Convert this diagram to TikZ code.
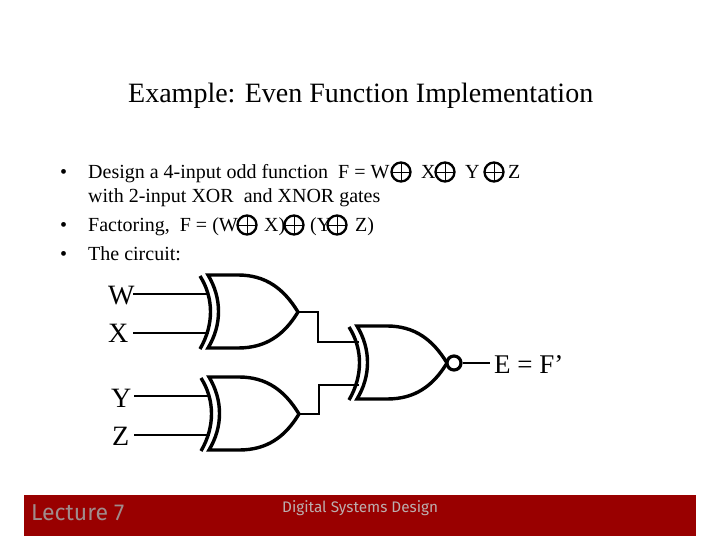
\documentclass[tikz,border=0pt]{standalone}
\usepackage{fontspec}
\setmainfont{Liberation Serif}
\newfontfamily\footfont{Fira Sans}
\definecolor{barred}{HTML}{990000}
\definecolor{footgrey}{HTML}{A08C8C}
\tikzset{
  body/.style={font=\fontsize{20}{22}\selectfont, anchor=base west, inner sep=0pt},
  bigtext/.style={font=\fontsize{28}{30}\selectfont, anchor=base west, inner sep=0pt},
  oplussym/.style={circle, draw, line width=2.3pt, minimum size=19pt, inner sep=0pt,
    path picture={\draw[line width=0.8pt] (path picture bounding box.north) -- (path picture bounding box.south)
      (path picture bounding box.west) -- (path picture bounding box.east);}},
  wire/.style={line width=2.8pt},
  thinwire/.style={line width=1.9pt},
  gateline/.style={line width=3.4pt},
  pics/xorgate/.style={code={
    \draw[gateline, line join=miter] (0,0) -- (30,0) .. controls (58,0) and (76,14) .. (90,37)
      .. controls (76,60) and (58,73) .. (30,73) -- (0,73) .. controls (14,50) and (14,23) .. (0,0) -- cycle;
    \draw[gateline] (-8,1) .. controls (6,23) and (6,50) .. (-8,74);
    \coordinate (-in1) at (1,19);
    \coordinate (-in2) at (1,58);
    \coordinate (-out) at (90,37);
  }}
}
\begin{document}
\begin{tikzpicture}[x=1pt,y=-1pt]
\useasboundingbox (0,0) rectangle (720,540);
\fill[white] (0,0) rectangle (720,540);
\node[bigtext] (title) at (128,103) {Example: Even Function Implementation};

\node[body] (b1) at (60,179) {•};
\node[body] (t1a) at (88,179) {Design a 4-input odd function\ \ F = W};
\node[body] (t1b) at (421,179) {X};
\node[body] (t1c) at (465,179) {Y};
\node[body] (t1d) at (508,179) {Z};
\node[oplussym] (o1) at (401,172) {};
\node[oplussym] (o2) at (445,172) {};
\node[oplussym] (o3) at (494,172) {};
\node[body] (t2) at (88,203) {with 2-input XOR\ \ and XNOR gates};
\node[body] (b2) at (60,232) {•};
\node[body] (t3a) at (88,232) {Factoring,\ \ F = (W};
\node[body] (t3b) at (264,232) {X)};
\node[body] (t3c) at (310,232) {(Y};
\node[body] (t3d) at (355,232) {Z)};
\node[oplussym] (o4) at (247,225) {};
\node[oplussym] (o5) at (294,225) {};
\node[oplussym] (o6) at (337,225) {};
\node[body] (b3) at (60,260) {•};
\node[body] (t4) at (88,260) {The circuit:};

\node[bigtext] (w) at (108,304) {W};
\node[bigtext] (x) at (108,342) {X};
\node[bigtext] (y) at (111,407) {Y};
\node[bigtext] (z) at (112,445) {Z};
\node[font=\fontsize{27}{29}\selectfont, anchor=base west, inner sep=0pt] (e) at (494,373) {E = F’};

\pic (g1) at (208,275) {xorgate};
\pic (g2) at (209,377) {xorgate};
\pic (g3) at (357,326) {xorgate};
\node[circle, draw, line width=3.2pt, minimum size=14pt, inner sep=0pt, fill=white] (bub) at (454,363) {};

\coordinate (wp) at (133,294);
\coordinate (xp) at (133,333);
\coordinate (yp) at (134,396);
\coordinate (zp) at (134,435);
\coordinate (ep) at (490,363);
\coordinate (j1) at (318,312);
\coordinate (j2) at (318,342);
\coordinate (j3) at (319,414);
\coordinate (j4) at (319,385);
\draw[wire] (wp) -- (g1-in1);
\draw[wire] (xp) -- (g1-in2);
\draw[wire] (yp) -- (g2-in1);
\draw[wire] (zp) -- (g2-in2);
\draw[thinwire] (g1-out) -- (j1);
\draw[thinwire] (g2-out) -- (j3);
\draw[wire, line cap=rect] (j1) -- (j2) -- (j2 -| g3-in1);
\draw[wire, line cap=rect] (j3) -- (j4) -- (j4 -| g3-in2);
\draw[wire] (bub) -- (ep);

\fill[barred] (24,495) rectangle (696,536);
\node[font=\footfont\fontsize{23}{25}\selectfont, text=footgrey, anchor=base west, inner sep=0pt] (lec) at (31,520) {Lecture 7};
\node[font=\footfont\fontsize{15.3}{17}\selectfont, text=footgrey!70!white, anchor=base west, inner sep=0pt] (dsd) at (282,512) {Digital Systems Design};
\end{tikzpicture}
\end{document}
